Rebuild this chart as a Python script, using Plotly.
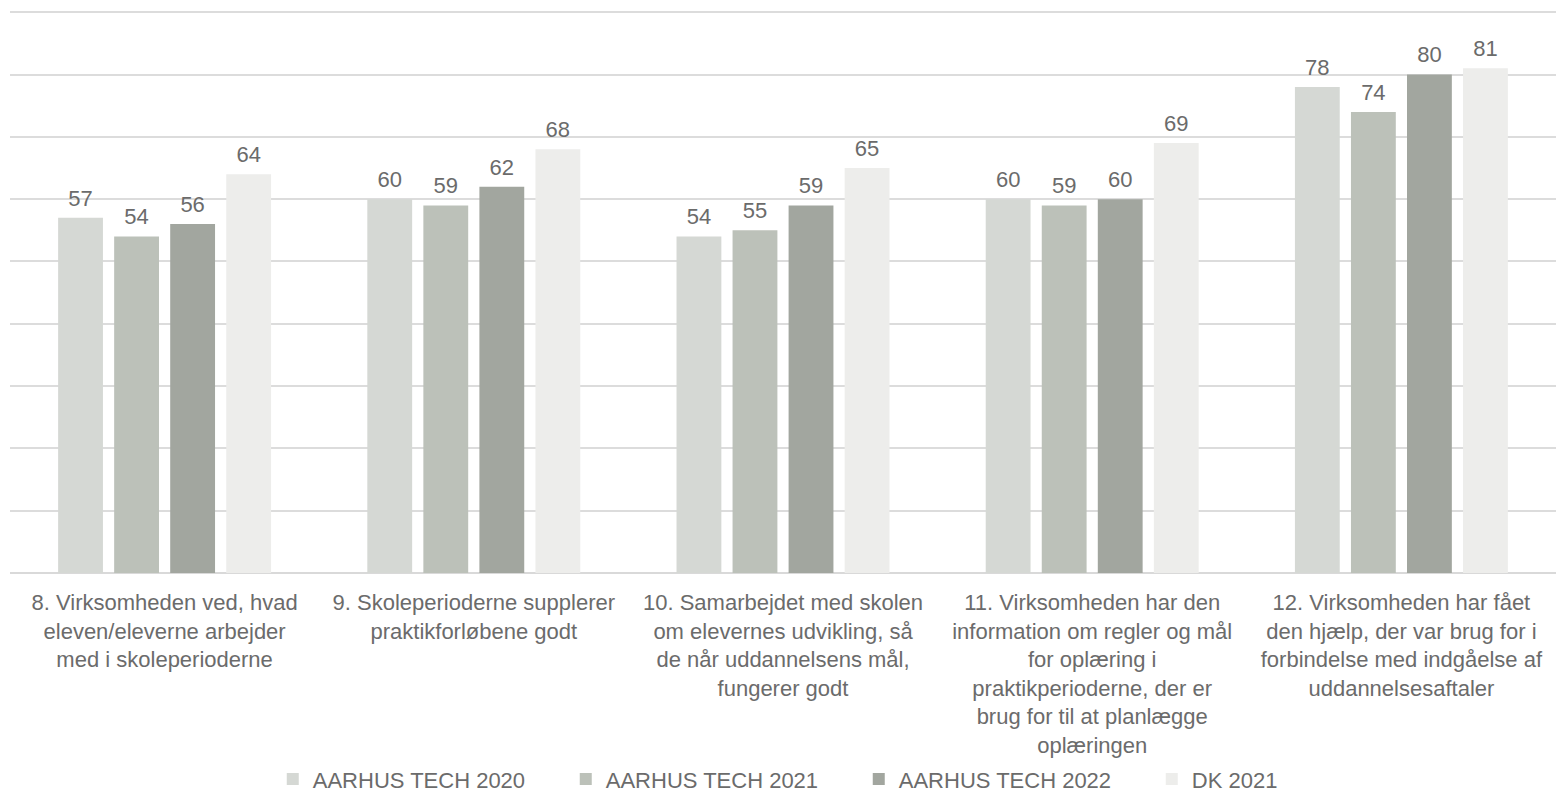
import plotly.graph_objects as go

categories = [
    "8. Virksomheden ved, hvad<br>eleven/eleverne arbejder<br>med i skoleperioderne",
    "9. Skoleperioderne supplerer<br>praktikforløbene godt",
    "10. Samarbejdet med skolen<br>om elevernes udvikling, så<br>de når uddannelsens mål,<br>fungerer godt",
    "11. Virksomheden har den<br>information om regler og mål<br>for oplæring i<br>praktikperioderne, der er<br>brug for til at planlægge<br>oplæringen",
    "12. Virksomheden har fået<br>den hjælp, der var brug for i<br>forbindelse med indgåelse af<br>uddannelsesaftaler",
]
series_names = ["AARHUS TECH 2020", "AARHUS TECH 2021", "AARHUS TECH 2022", "DK 2021"]
at2020 = [57, 60, 54, 60, 78]
at2021 = [54, 59, 55, 59, 74]
at2022 = [56, 62, 59, 60, 80]
dk2021 = [64, 68, 65, 69, 81]
colors = ["#d5d8d4", "#bcc1b9", "#a2a69f", "#ededeb"]

FONT = "Liberation Sans, Arial, sans-serif"
TXT = "#6b6b6b"
xs = list(range(len(categories)))

fig = go.Figure()
for i, (name, vals, col) in enumerate(zip(series_names, [at2020, at2021, at2022, dk2021], colors)):
    fig.add_trace(go.Bar(
        name=name, x=xs, y=vals,
        marker=dict(color=col, line=dict(width=0)),
        offsetgroup=str(i), hoverinfo="skip",
    ))
for i, (name, vals) in enumerate(zip(series_names, [at2020, at2021, at2022, dk2021])):
    fig.add_trace(go.Scatter(
        x=xs, y=vals, mode="markers+text",
        marker=dict(size=9, color="rgba(0,0,0,0)"),
        text=[str(v) for v in vals], textposition="top center",
        textfont=dict(size=22, color=TXT, family=FONT),
        offsetgroup=str(i), showlegend=False, cliponaxis=False, hoverinfo="skip",
    ))

fig.update_layout(
    barmode="group", bargap=0.275, bargroupgap=0.2,
    scattermode="group", scattergap=0.275,
    width=1556, height=803,
    margin=dict(l=10, r=0, t=11, b=230),
    paper_bgcolor="white", plot_bgcolor="white",
    font=dict(family=FONT, size=22, color=TXT),
    showlegend=True,
    legend=dict(orientation="h", x=0.549, xanchor="center", y=-0.367, yanchor="middle",
                font=dict(size=22, color=TXT, family=FONT), traceorder="normal",
                entrywidth=248, entrywidthmode="pixels"),
    xaxis=dict(tickmode="array", tickvals=xs, ticktext=categories,
               range=[-0.5, len(categories) - 0.5],
               showgrid=False, showline=False, ticks="", automargin=False,
               ticklabelstandoff=14,
               tickfont=dict(size=22, color=TXT, family=FONT)),
    yaxis=dict(range=[0, 90.2], tickvals=[10, 20, 30, 40, 50, 60, 70, 80, 90],
               showgrid=True, gridcolor="#dcdcdc", gridwidth=1.5,
               zeroline=True, zerolinecolor="#d9d9d9", zerolinewidth=2,
               showticklabels=False, automargin=False),
)
fig.write_html("out.html", config={"displayModeBar": False},
               post_script="document.body.style.margin='0';document.body.style.overflow='hidden';")
